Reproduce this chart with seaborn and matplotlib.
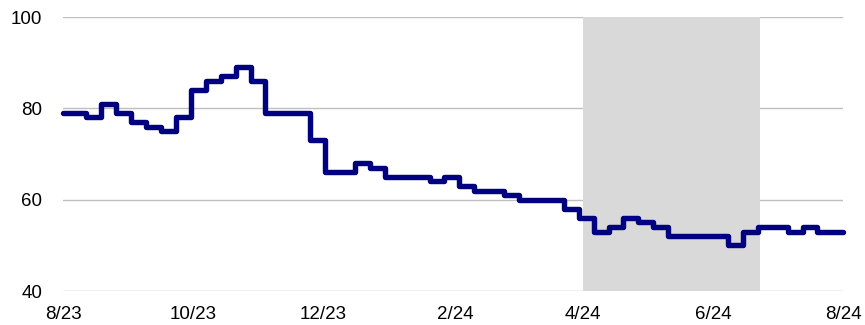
import matplotlib
matplotlib.use("Agg")
import matplotlib.pyplot as plt
import matplotlib.dates as mdates
import numpy as np
import pandas as pd
import seaborn as sns

# Weekly readings (Saturdays), Aug 2023 - Jul 2024
week_start = "2023-08-05"
week_end = "2024-07-27"
weekly_values = [
    79, 78, 81, 79, 77, 76, 75, 78, 84, 86, 87, 89, 86,
    79, 79, 79, 73, 66, 66, 68, 67, 65, 65, 65, 64, 65,
    63, 62, 62, 61, 60, 60, 60, 58, 56, 53, 54, 56, 55,
    54, 52, 52, 52, 52, 50, 53, 54, 54, 53, 54, 53, 53,
]
period_start, period_start_value = "2023-08-01", 79
period_end, period_end_value = "2024-08-01", 53

shade_start = "2024-04-01"
shade_end = "2024-06-23"

tick_dates = ["2023-08-01", "2023-10-01", "2023-12-01", "2024-02-01",
              "2024-04-01", "2024-06-01", "2024-08-01"]
tick_labels = ["8/23", "10/23", "12/23", "2/24", "4/24", "6/24", "8/24"]
y_ticks = [40, 60, 80, 100]

dates = ([pd.Timestamp(period_start)]
         + list(pd.date_range(week_start, week_end, freq="7D"))
         + [pd.Timestamp(period_end)])
values = [period_start_value] + weekly_values + [period_end_value]
df = pd.DataFrame({"date": dates, "value": values})

sns.set_style("white")
plt.rcParams["font.family"] = ["Liberation Sans", "DejaVu Sans"]

fig = plt.figure(figsize=(8.65, 3.25), dpi=100)
ax = fig.add_axes([63 / 865, 34 / 325, 780 / 865, 274 / 325])

ax.axvspan(pd.Timestamp(shade_start), pd.Timestamp(shade_end),
           color="#d9d9d9", lw=0, zorder=1)

for y in y_ticks:
    ax.axhline(y, color="#bfbfbf", lw=1.0, zorder=0.5)

sns.lineplot(data=df, x="date", y="value", ax=ax, drawstyle="steps-post",
             color="#000080", lw=3.9, zorder=3,
             solid_joinstyle="round", solid_capstyle="round", clip_on=False)

ax.set_xlim(pd.Timestamp(period_start), pd.Timestamp(period_end))
ax.set_ylim(40, 100)
ax.set_yticks(y_ticks)
ax.set_yticklabels([str(v) for v in y_ticks], fontsize=13.5)
ax.set_xticks([pd.Timestamp(d) for d in tick_dates])
ax.set_xticklabels(tick_labels, fontsize=13.5)
ax.tick_params(axis="both", length=0, colors="#000000")
ax.tick_params(axis="y", pad=15)
ax.tick_params(axis="x", pad=11)
ax.set_xlabel("")
ax.set_ylabel("")
for s in ax.spines.values():
    s.set_visible(False)

fig.savefig("out.png", dpi=100)
